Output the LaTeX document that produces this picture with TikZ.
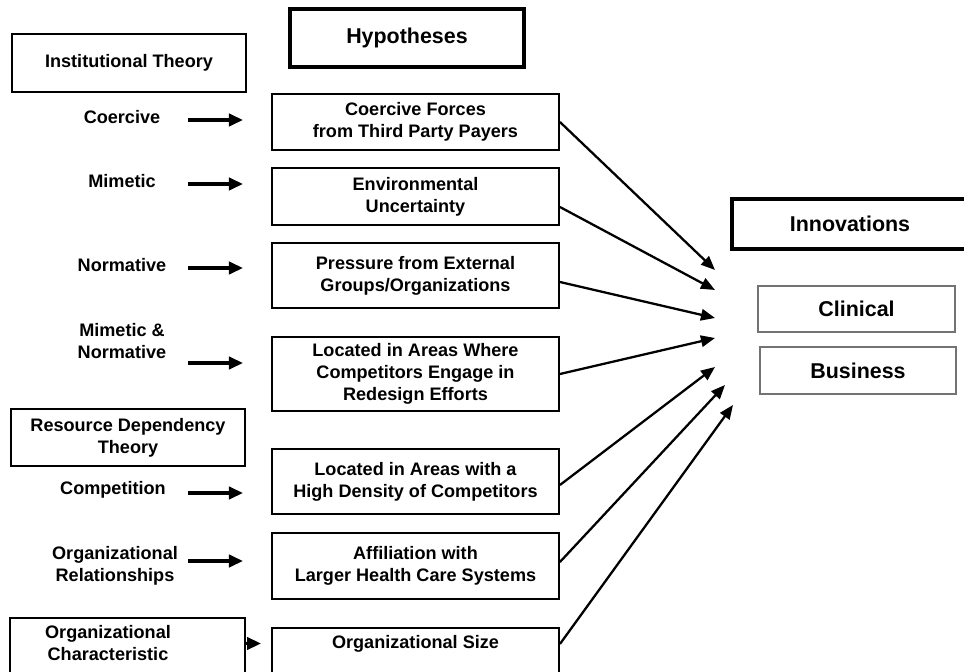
\documentclass[tikz,border=0pt]{standalone}
\usepackage{fontspec}
\setmainfont{Liberation Sans}
\usetikzlibrary{arrows.meta}

\begin{document}
\begin{tikzpicture}[x=0.02cm, y=-0.02cm, font=\bfseries\fontsize{10.3}{12.5}\selectfont,
    plainbox/.style={draw, line width=1.1pt, align=center, inner sep=0pt},
    headbox/.style={draw, line width=2.3pt, inner sep=0pt, font=\bfseries\fontsize{12.2}{14}\selectfont},
    outbox/.style={draw=black!55, line width=0.7pt, inner sep=0pt, font=\bfseries\fontsize{12.2}{14}\selectfont},
    txt/.style={align=center, inner sep=0pt},
    lftarr/.style={-{Triangle[length=8pt,width=7pt]}, line width=1.8pt},
    rgtarr/.style={-{Triangle[length=8pt,width=6.5pt]}, line width=1.3pt}]
      \useasboundingbox (0,0) rectangle (964,672);
      \node[plainbox, minimum width=4.68cm, minimum height=1.16cm] (inst) at (129,63) {Institutional Theory};
      \node[headbox, minimum width=4.68cm, minimum height=1.16cm] (hyp) at (407,38) {Hypotheses};
      \node[plainbox, minimum width=5.74cm, minimum height=1.12cm] (h1) at (415.5,122) {Coercive Forces\\from Third Party Payers};
      \node[plainbox, minimum width=5.74cm, minimum height=1.14cm] (h2) at (415.5,196.5) {Environmental\\Uncertainty};
      \node[plainbox, minimum width=5.74cm, minimum height=1.30cm] (h3) at (415.5,275.5) {Pressure from External\\Groups/Organizations};
      \node[plainbox, minimum width=5.74cm, minimum height=1.48cm] (h4) at (415.5,374) {Located in Areas Where\\Competitors Engage in\\Redesign Efforts};
      \node[plainbox, minimum width=5.74cm, minimum height=1.30cm] (h5) at (415.5,481.5) {Located in Areas with a\\High Density of Competitors};
      \node[plainbox, minimum width=5.74cm, minimum height=1.32cm] (h6) at (415.5,566) {Affiliation with\\Larger Health Care Systems};
      \node[plainbox, anchor=north, minimum width=5.74cm, minimum height=1.3cm] (h7) at (415.5,627) {};
      \node[txt] (h7t) at (415.5,644) {Organizational Size};
      \node[txt] (coer) at (122,117) {Coercive};
      \node[txt] (mim) at (122,181) {Mimetic};
      \node[txt] (norm) at (122,265) {Normative};
      \node[txt] (mnorm) at (122,341) {Mimetic \&\\Normative};
      \node[plainbox, minimum width=4.68cm, minimum height=1.14cm] (rdt) at (128,437.5) {Resource Dependency\\Theory};
      \node[txt] (comp) at (113,490) {Competition};
      \node[txt] (orel) at (115,566) {Organizational\\Relationships};
      \node[plainbox, anchor=north, minimum width=4.7cm, minimum height=1.3cm] (oc) at (127.5,617) {};
      \node[txt] (oct) at (108,643.5) {Organizational\\Characteristic};
      \node[headbox, minimum width=4.72cm, minimum height=1.0cm] (inno) at (850,224) {Innovations};
      \node[outbox, minimum width=3.94cm, minimum height=0.92cm] (clin) at (856.5,309) {Clinical};
      \node[outbox, minimum width=3.92cm, minimum height=0.94cm] (bus) at (858,370.5) {Business};
      \coordinate (t1) at (715,270);
      \coordinate (t2) at (715,290);
      \coordinate (t3) at (715,318);
      \coordinate (t4) at (715,338);
      \coordinate (t5) at (715,367);
      \coordinate (t6) at (725,385);
      \coordinate (t7) at (733,405);
      \draw[rgtarr] (h1.east) -- (t1);
      \draw[rgtarr] ([yshift=-0.21cm]h2.east) -- (t2);
      \draw[rgtarr] ([yshift=-0.13cm]h3.east) -- (t3);
      \draw[rgtarr] (h4.east) -- (t4);
      \draw[rgtarr] ([yshift=-0.07cm]h5.east) -- (t5);
      \draw[rgtarr] ([yshift=0.08cm]h6.east) -- (t6);
      \draw[rgtarr] (h7.east |- h7t) -- (t7);
      \foreach \n/\y in {a/120,b/184,c/268,d/363,e/493,f/561} {
        \coordinate (s\n) at (188,\y);
        \coordinate (e\n) at (243,\y);
        \draw[lftarr] (s\n) -- (e\n);
      }
      \draw[lftarr, shorten >=0.2cm] (oc.east |- oct) -- (h7.west |- oct);
    \end{tikzpicture}
\end{document}
